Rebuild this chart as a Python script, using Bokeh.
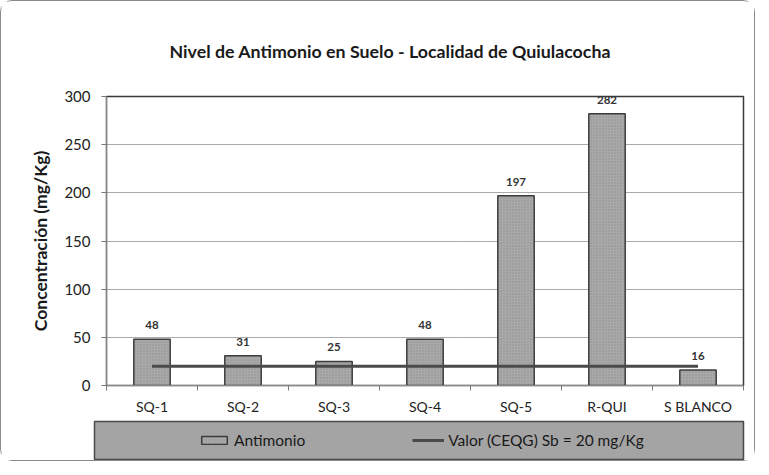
from bokeh.plotting import figure
from bokeh.layouts import column
from bokeh.models import (ColumnDataSource, FixedTicker, Legend, LegendItem, Range1d)
from bokeh.core.properties import value
from bokeh.embed import file_html
from bokeh.resources import INLINE

categories = ["SQ-1", "SQ-2", "SQ-3", "SQ-4", "SQ-5", "R-QUI", "S BLANCO"]
antimonio = [48, 31, 25, 48, 197, 282, 16]
limite = [20, 20, 20, 20, 20, 20, 20]
y_ticks = [0, 50, 100, 150, 200, 250, 300]

FONT = "Lato"
BAR_FILL = "#a9a9a9"
BAR_LINE = "#3c3c3c"
LINE_COL = "#4a4a4a"

n = len(categories)
xc = [i + 0.5 for i in range(n)]
src = ColumnDataSource(dict(x=xc, cat=categories, v=antimonio, lim=limite,
                            lab=[str(v) for v in antimonio]))

W = 753
p = figure(width=W, height=416, output_backend="svg", toolbar_location=None,
           x_range=Range1d(0, n), y_range=Range1d(0, 300),
           min_border_left=105, min_border_right=11, min_border_top=95,
           min_border_bottom=32)
p.frame_align = False
p.background_fill_color = "white"
p.border_fill_color = "white"
p.outline_line_color = "#3a3a3a"
p.outline_line_width = 1.5

p.title.text = "Nivel de Antimonio en Suelo  -  Localidad de Quiulacocha"
p.title.text_font = FONT
p.title.text_font_size = "17.8px"
p.title.text_font_style = "bold"
p.title.text_color = "#1a1a1a"
p.title.align = "left"
p.title.offset = 63
p.title.standoff = 70

hatch = dict(hatch_pattern="dot", hatch_color="#7a7a7a", hatch_scale=3,
             hatch_weight=0.8, hatch_alpha=0.6)
bar_style = dict(width=0.4, fill_color=BAR_FILL, line_color=BAR_LINE,
                 line_width=1.5, **hatch)
p.vbar(x="x", top="v", source=src, **bar_style)
p.line(x="x", y="lim", source=src, line_color=LINE_COL, line_width=3)

p.text(x="x", y="v", text="lab", source=src, text_align="center",
       text_baseline="bottom", y_offset=-10, text_font=value(FONT),
       text_font_size="11.5px", text_font_style="bold", text_color="#333333")

xa = p.xaxis[0]
xa.ticker = FixedTicker(ticks=xc, minor_ticks=list(range(n + 1)))
xa.major_label_overrides = {x: c for x, c in zip(xc, categories)}
xa.major_tick_out = 0
xa.major_tick_in = 0
xa.minor_tick_out = 5
xa.minor_tick_in = 0
xa.minor_tick_line_color = "#777777"
xa.axis_line_color = "#888888"
xa.major_label_text_font = FONT
xa.major_label_text_font_size = "14px"
xa.major_label_text_color = "#222222"
xa.major_label_standoff = 7

ya = p.yaxis[0]
ya.ticker = FixedTicker(ticks=y_ticks)
ya.major_tick_out = 5
ya.major_tick_in = 0
ya.minor_tick_out = 0
ya.major_tick_line_color = "#777777"
ya.axis_line_color = "#888888"
ya.major_label_text_font = FONT
ya.major_label_text_font_size = "15px"
ya.major_label_text_color = "#222222"
ya.major_label_standoff = 11
ya.axis_label = "Concentración (mg/Kg)"
ya.axis_label_text_font = FONT
ya.axis_label_text_font_size = "17.5px"
ya.axis_label_text_font_style = "bold"
ya.axis_label_text_color = "#1a1a1a"
ya.axis_label_standoff = 10

p.xgrid.grid_line_color = None
p.ygrid.grid_line_color = "#555555"
p.ygrid.grid_line_dash = "1 1"
p.ygrid.grid_line_width = 1

# legend panel (box below the chart); its view range lies away from the data,
# so the proxy renderers only show up as legend glyphs
lg = figure(width=W, height=43, output_backend="svg", toolbar_location=None,
            x_range=Range1d(-100, -99), y_range=Range1d(-100, -99),
            x_axis_location=None, y_axis_location=None,
            min_border_left=93, min_border_right=11, min_border_top=4,
            min_border_bottom=1)
lg.frame_align = False
lg.grid.visible = False
lg.background_fill_color = "#a4a4a4"
lg.border_fill_color = "white"
lg.outline_line_color = "#4a4a4a"
lg.outline_line_width = 1.5
r_bar = lg.vbar(x="x", top="v", source=src, **bar_style)
r_line = lg.line(x="x", y="lim", source=src, line_color=LINE_COL, line_width=3)
legend = Legend(items=[LegendItem(label="Antimonio", renderers=[r_bar]),
                       LegendItem(label="Valor (CEQG) Sb = 20 mg/Kg", renderers=[r_line])],
                orientation="horizontal", location=(104, 10),
                padding=0, margin=0, spacing=107, label_standoff=4,
                glyph_width=32, glyph_height=10,
                background_fill_alpha=0, border_line_alpha=0,
                label_text_font=FONT, label_text_font_size="15.5px",
                label_text_color="#1a1a1a")
lg.add_layout(legend, "center")

layout = column(p, lg, spacing=0)
layout.styles = {"border": "1px solid #8a8a8a", "border-radius": "12px"}

open("out.html", "w").write(file_html(layout, INLINE))
